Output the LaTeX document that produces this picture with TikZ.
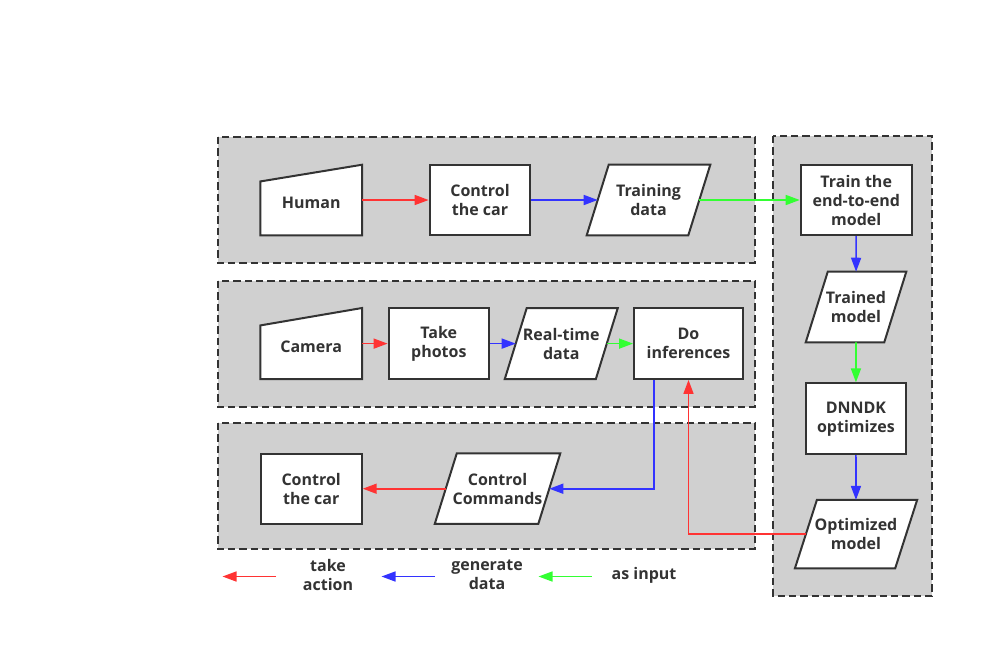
\documentclass[tikz,border=0pt]{standalone}
\usepackage{fontspec}
\setmainfont{Open Sans}
\usetikzlibrary{arrows.meta,calc}
\definecolor{ink}{HTML}{333333}
\definecolor{panelgray}{HTML}{D0D0D0}
\definecolor{ared}{HTML}{FF3333}
\definecolor{ablue}{HTML}{3333FF}
\definecolor{agreen}{HTML}{33FF33}
\newcommand\drawpara[2]{\draw[outline] ($(#1.south west)+(-#2,0)$) -- ($(#1.south east)+(-#2,0)$) -- ($(#1.north east)+(#2,0)$) -- ($(#1.north west)+(#2,0)$) -- cycle;}
\newcommand\drawmanual[2]{\draw[outline] (#1.south west) -- (#1.south east) -- (#1.north east) -- ($(#1.north west)+(0,#2)$) -- cycle;}
\begin{document}
\begin{tikzpicture}[x=0.75pt,y=-0.75pt,
  panel/.style={fill=panelgray, draw=ink, line width=1.5pt, dash pattern=on 5.5pt off 3pt},
  outline/.style={draw=ink, line width=1.5pt, fill=white},
  lbl/.style={font=\bfseries\fontsize{12}{14.25}\selectfont, align=center, text=ink, inner sep=0pt},
  box/.style={outline, rectangle, minimum height=52.5pt, inner sep=0pt, lbl},
  hold/.style={rectangle, inner sep=0pt, minimum height=52.5pt},
  conn/.style={line width=1.2pt, -{Triangle[length=10.5pt,width=7.5pt]}},
]
\useasboundingbox (0,0) rectangle (994,658);

% panels
\draw[panel] (218,137) rectangle (755,263);
\draw[panel] (218,281) rectangle (755,407);
\draw[panel] (218,423) rectangle (755,549);
\draw[panel] (773,136) rectangle (932,596);

% row 1
\node[hold, minimum width=75.8pt] (hu) at (311.2,200) {};
\drawmanual{hu}{16.7}
\node[lbl] (hu-t) at ($(hu)+(0,3)$) {Human};
\node[box, minimum width=75.6pt] (c1) at (480,200) {Control\\the car};
\node[hold, minimum width=75.8pt] (td) at (648.5,200) {};
\drawpara{td}{11}
\node[lbl] (td-t) at (td) {Training\\data};

% right column
\node[box, minimum width=83.25pt] (tr) at (856.2,200) {Train the\\end-to-end\\model};
\node[hold, minimum width=58.5pt] (tm) at (856,307) {};
\drawpara{tm}{11}
\node[lbl] (tm-t) at (tm) {Trained\\model};
\node[box, minimum width=75.2pt, minimum height=53pt] (dn) at (855.9,418.7) {DNNDK\\optimizes};
\node[hold, minimum width=74.8pt, minimum height=51pt] (om) at (856,534.2) {};
\drawpara{om}{11}
\node[lbl] (om-t) at (om) {Optimized\\model};

% row 2
\node[hold, minimum width=75.8pt, minimum height=53pt] (cam) at (311.2,343.6) {};
\drawmanual{cam}{17.4}
\node[lbl] (cam-t) at ($(cam)+(0,3.5)$) {Camera};
\node[box, minimum width=75.3pt, minimum height=53pt] (tp) at (438.8,343.6) {Take\\photos};
\node[hold, minimum width=67.9pt, minimum height=53pt] (rt) at (561.25,343.6) {};
\drawpara{rt}{11}
\node[lbl] (rt-t) at (rt) {Real-time\\data};
\node[box, minimum width=81.75pt, minimum height=53pt] (di) at (688.5,343.6) {Do\\inferences};

% row 3
\node[box, minimum width=75.8pt] (cc) at (311.2,488.7) {Control\\the car};
\node[hold, minimum width=77.25pt] (cmd) at (497.5,488.7) {};
\drawpara{cmd}{11}
\node[lbl] (cmd-t) at (cmd) {Control\\Commands};

% connectors
\draw[conn, ared] (hu.east) -- (c1.west);
\draw[conn, ablue] (c1.east) -- (td.west);
\draw[conn, agreen] (td.east) -- (tr.west);
\draw[conn, ablue] (tr) -- (tm);
\draw[conn, agreen] (tm) -- (dn);
\draw[conn, ablue] (dn) -- (om);
\draw[conn, ared] (cam.east) -- (tp.west);
\draw[conn, ablue] (tp.east) -- (rt.west);
\draw[conn, agreen] (rt.east) -- (di.west);
\draw[conn, ablue] ($(di.south west)+(21,0)$) |- (cmd.east);
\draw[conn, ared] (cmd.west) -- (cc.east);
\draw[conn, ared] (om.west) -| (di.south);

% legend
\coordinate (l1a) at (276,576.5);
\coordinate (l1b) at (222.5,576.5);
\draw[conn, ared] (l1a) -- (l1b);
\node[lbl] (l1t) at (328,575) {take\\action};
\coordinate (l2a) at (435,576.5);
\coordinate (l2b) at (381.5,576.5);
\draw[conn, ablue] (l2a) -- (l2b);
\node[lbl] (l2t) at (487,575) {generate\\data};
\coordinate (l3a) at (591.5,576.5);
\coordinate (l3b) at (538.5,576.5);
\draw[conn, agreen] (l3a) -- (l3b);
\node[lbl] (l3t) at (644,575) {as input};
\end{tikzpicture}
\end{document}
